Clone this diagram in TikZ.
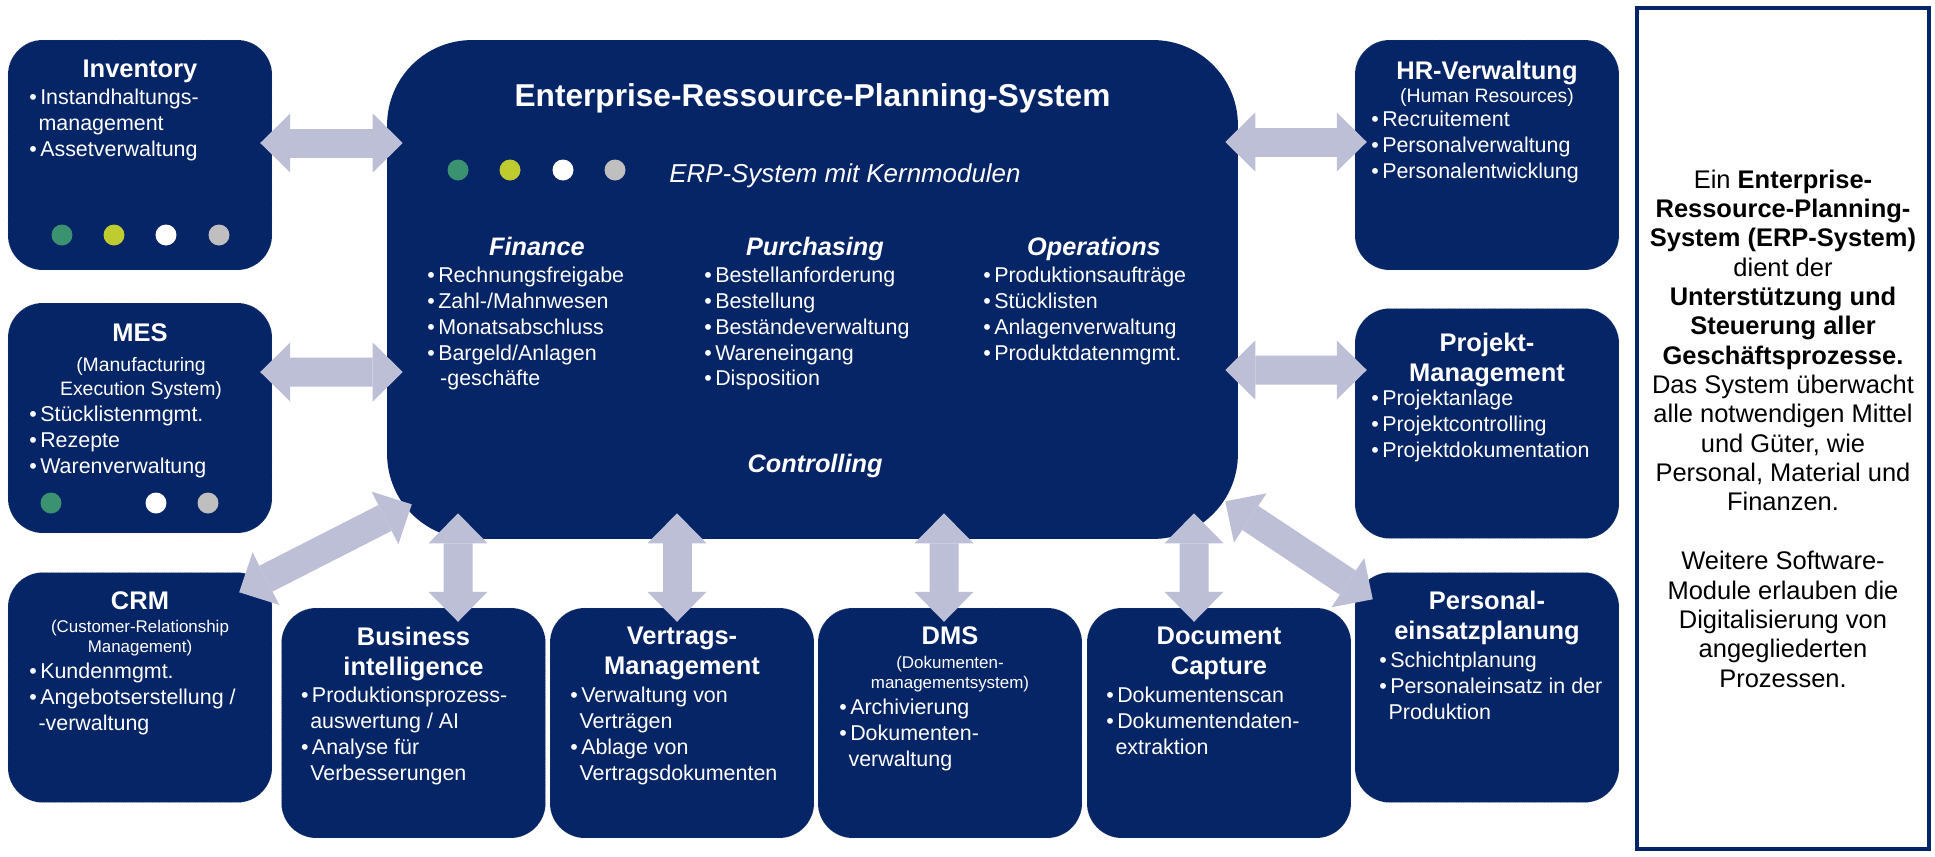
\documentclass[tikz,border=0pt]{standalone}
\usepackage{fontspec}
\setmainfont{Liberation Sans}
\usetikzlibrary{arrows.meta}

\definecolor{erpnavy}{RGB}{6,37,103}
\definecolor{linkgray}{RGB}{188,191,214}
\definecolor{dotgreen}{RGB}{58,146,112}
\definecolor{dotlime}{RGB}{191,204,47}
\definecolor{dotgray}{RGB}{191,191,191}

\newcommand{\bl}{\makebox[0.51em][l]{\textbullet}}
\newcommand{\cont}{\hspace*{0.43em}}

\begin{document}
\begin{tikzpicture}[x=0.02cm, y=-0.02cm,
  every node/.style={inner sep=0pt},
  modbox/.style={fill=erpnavy, draw=gray!60!erpnavy, densely dotted, line width=0.01cm,
    rounded corners=0.7cm, minimum width=5.28cm, minimum height=4.6cm},
  erpbox/.style={fill=erpnavy, rounded corners=1.7cm, minimum width=17.02cm, minimum height=9.98cm},
  ttl/.style={text=white, font=\bfseries\fontsize{14.5}{17}\selectfont, align=center, anchor=north},
  sub/.style={text=white, font=\fontsize{11.05}{13.6}\selectfont, align=center, anchor=north},
  subsm/.style={text=white, font=\fontsize{9.64}{11.34}\selectfont, align=center, anchor=north},
  lst/.style={text=white, font=\fontsize{12.2}{14.74}\selectfont, align=left, anchor=north west},
  erptitle/.style={text=white, font=\bfseries\fontsize{18}{21}\selectfont, anchor=base},
  erpsub/.style={text=white, font=\itshape\fontsize{14.74}{17}\selectfont, anchor=base west},
  colhead/.style={text=white, font=\bfseries\itshape\fontsize{14.4}{17}\selectfont, anchor=base},
  info/.style={draw=erpnavy, line width=0.08cm, minimum width=5.84cm, minimum height=16.82cm,
    align=center, font=\fontsize{14.5}{16.7}\selectfont},
  fat/.style={draw=linkgray, line width=0.58cm,
    {Triangle[width=1.18cm,length=0.6cm,line width=0pt]}-{Triangle[width=1.18cm,length=0.6cm,line width=0pt]}}]
\useasboundingbox (0,0) rectangle (1935,856);

% boxes
\node[erpbox] (erp) at (812.5,289.5) {};
\node[modbox] (inv) at (140,155) {};
\node[modbox] (mes) at (140,418) {};
\node[modbox] (crm) at (140,687.5) {};
\node[modbox] (hr) at (1487,155) {};
\node[modbox] (proj) at (1487,423.5) {};
\node[modbox] (pers) at (1487,687.5) {};
\node[modbox] (bi) at (413.5,723) {};
\node[modbox] (vert) at (682,723) {};
\node[modbox] (dms) at (950,723) {};
\node[modbox] (dc) at (1219,723) {};

% arrows
\draw[fat] ([shift={(-12,-12)}]inv.east) -- ([shift={(16,-146.5)}]erp.west);
\draw[fat] ([shift={(-12,-46)}]mes.east) -- ([shift={(16,82.5)}]erp.west);
\draw[fat] ([shift={(12,-13)}]hr.west) -- ([shift={(-13,-147.5)}]erp.east);
\draw[fat] ([shift={(12,-53.5)}]proj.west) -- ([shift={(-13,80.5)}]erp.east);
\draw[fat] ([shift={(-33,20)}]crm.north east) -- ([shift={(25,-35)}]erp.south west);
\draw[fat] ([shift={(44.5,14)}]bi.north) -- ([shift={(-354.5,-26)}]erp.south);
\draw[fat] ([shift={(-5,14)}]vert.north) -- ([shift={(-135.5,-26)}]erp.south);
\draw[fat] ([shift={(-6,14)}]dms.north) -- ([shift={(131.5,-26)}]erp.south);
\draw[fat] ([shift={(-25,14)}]dc.north) -- ([shift={(381.5,-26)}]erp.south);
\draw[fat] ([shift={(18,27)}]pers.north west) -- ([shift={(-13,-38)}]erp.south east);

% ERP core modules
\node[erptitle] (erpttl) at (812.5,106) {Enterprise-Ressource-Planning-System};
\foreach \c/\x in {dotgreen/458,dotlime/510,white/563,dotgray/615}
  \fill[\c] (\x,170) circle[radius=0.21cm];
\node[erpsub] (erpsub) at (669,182) {ERP-System mit Kernmodulen};
\node[colhead] (fin) at (537,255) {Finance};
\node[colhead] (pur) at (815,255) {Purchasing};
\node[colhead] (ops) at (1094,255) {Operations};
\node[lst] (finl) at (427,266.5) {\bl Rechnungsfreigabe\\ \bl Zahl-/Mahnwesen\\ \bl Monatsabschluss\\
  \bl Bargeld/Anlagen\\ \hspace*{0.6em}-geschäfte};
\node[lst] (purl) at (704,266.5) {\bl Bestellanforderung\\ \bl Bestellung\\ \bl Beständeverwaltung\\
  \bl Wareneingang\\ \bl Disposition};
\node[lst] (opsl) at (983,266.5) {\bl Produktionsaufträge\\ \bl Stücklisten\\ \bl Anlagenverwaltung\\
  \bl Produktdatenmgmt.};
\node[colhead] (ctrl) at (815,472) {Controlling};

% left column
\node[ttl] (invt) at (140,59.5) {Inventory};
\node[lst] (invl) at (29,88.5) {\bl Instandhaltungs-\\ \cont management\\ \bl Assetverwaltung};
\foreach \c/\x in {dotgreen/62,dotlime/114,white/166,dotgray/219}
  \fill[\c] (\x,235) circle[radius=0.21cm];

\node[ttl] (mest) at (140,323.3) {MES};
\node[sub] (mess) at (141,357.5) {(Manufacturing\\Execution System)};
\node[lst] (mesl) at (29,405.5) {\bl Stücklistenmgmt.\\ \bl Rezepte\\ \bl Warenverwaltung};
\foreach \c/\x in {dotgreen/51,white/156,dotgray/208}
  \fill[\c] (\x,503) circle[radius=0.21cm];

\node[ttl] (crmt) at (140,591) {CRM};
\node[subsm] (crms) at (140,620.3) {(Customer-Relationship\\Management)};
\node[lst] (crml) at (29,662.5) {\bl Kundenmgmt.\\ \bl Angebotserstellung /\\ \cont -verwaltung};

% bottom row
\node[ttl] (bit) at (413.5,626.6) {Business\\intelligence};
\node[lst] (bil) at (300.7,687) {\bl Produktionsprozess-\\ \cont auswertung / AI\\ \bl Analyse für\\
  \cont Verbesserungen};

\node[ttl] (vertt) at (682,626.6) {Vertrags-\\Management};
\node[lst] (vertl) at (570,687) {\bl Verwaltung von\\ \cont Verträgen\\ \bl Ablage von\\ \cont Vertragsdokumenten};

\node[ttl] (dmst) at (950,626.6) {DMS};
\node[subsm] (dmss) at (950,656.3) {(Dokumenten-\\managementsystem)};
\node[lst] (dmsl) at (839,698.5) {\bl Archivierung\\ \bl Dokumenten-\\ \cont verwaltung};

\node[ttl] (dct) at (1219,626.6) {Document\\Capture};
\node[lst] (dcl) at (1106,687) {\bl Dokumentenscan\\ \bl Dokumentendaten-\\ \cont extraktion};

% right column
\node[ttl] (hrt) at (1487,60.5) {HR-Verwaltung};
\node[sub] (hrs) at (1487,87.8) {(Human Resources)};
\node[lst] (hrl) at (1371,111) {\bl Recruitement\\ \bl Personalverwaltung\\ \bl Personalentwicklung};

\node[ttl] (projt) at (1487,333) {Projekt-\\Management};
\node[lst] (projl) at (1371,389.5) {\bl Projektanlage\\ \bl Projektcontrolling\\ \bl Projektdokumentation};

\node[ttl] (perst) at (1487,591) {Personal-\\einsatzplanung};
\node[lst] (persl) at (1379,651.5) {\bl Schichtplanung\\ \bl Personaleinsatz in der\\ \cont Produktion};

% info panel
\node[info] (infobox) at (1783,428.5) {Ein \textbf{Enterprise-}\\ \textbf{Ressource-Planning-}\\
  \textbf{System (ERP-System)}\\ dient der\\ \textbf{Unterstützung und}\\ \textbf{Steuerung aller}\\
  \textbf{Geschäftsprozesse.}\\ Das System überwacht\\ alle notwendigen Mittel\\ und Güter, wie\\
  Personal, Material und\\ Finanzen.\\[0.59cm] Weitere Software-\\ Module erlauben die\\
  Digitalisierung von\\ angegliederten\\ Prozessen.};
\end{tikzpicture}
\end{document}
